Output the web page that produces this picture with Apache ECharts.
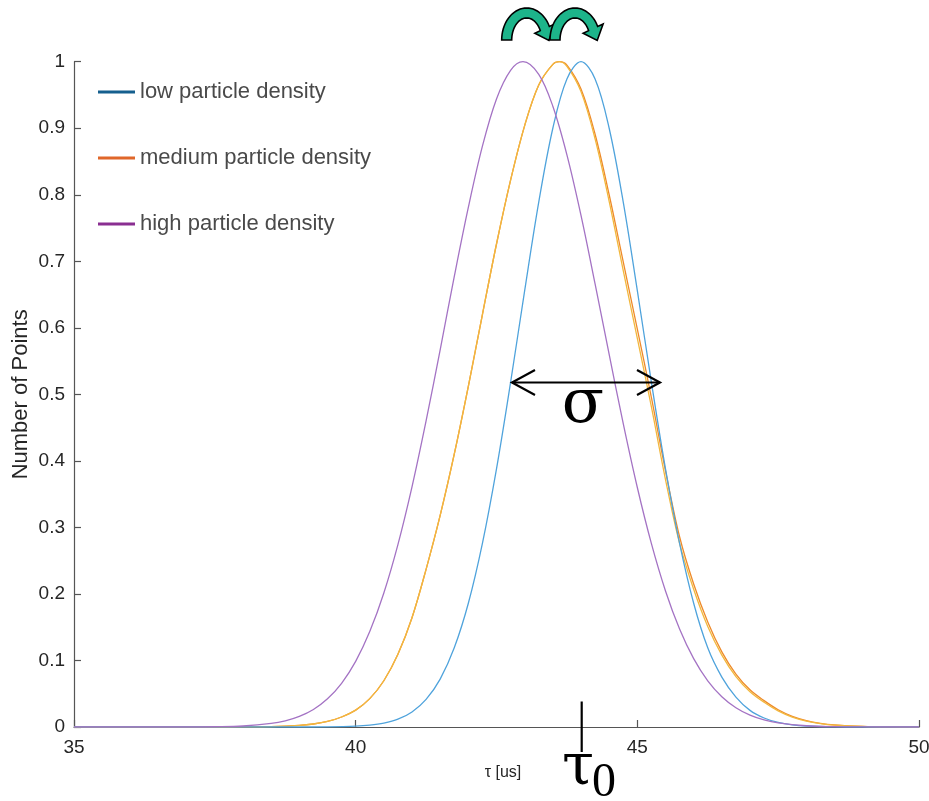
<!DOCTYPE html>
<html><head><meta charset="utf-8">
<script src="https://cdn.jsdelivr.net/npm/echarts@6/dist/echarts.min.js"></script>
<style>html,body{margin:0;padding:0;background:#fff}#c{width:929px;height:801px}</style>
</head><body><div id="c"></div>
<script>
// ---- data ----
const seriesNames = ['low particle density', 'medium particle density', 'high particle density'];
const xRange = [35, 50];
const xInterval = 5;
const yRange = [0, 1];
const yInterval = 0.1;

const lowDensity = [
  [35,0],[39,0],[39.5,0.0002],[40,0.0012],[40.25,0.0027],[40.5,0.0058],[40.75,0.0117],[41,0.0226],
  [41.25,0.0415],[41.5,0.072],[41.75,0.119],[42,0.186],[42.25,0.276],[42.5,0.388],[42.75,0.518],
  [43,0.656],[43.25,0.789],[43.5,0.900],[43.75,0.974],[44,1.0],[44.25,0.974],[44.5,0.900],[44.75,0.789],
  [45,0.656],[45.25,0.518],[45.5,0.388],[45.75,0.276],[46,0.186],[46.25,0.119],[46.5,0.075],[46.75,0.045],
  [47,0.025],[47.25,0.0135],[47.5,0.0068],[47.75,0.0032],[48,0.0015],[48.5,0.0003],[49,0],[50,0]
];
const mediumDensity = [
  [35,0],[37.5,0],[38,0.0001],[38.5,0.0006],[39,0.0024],[39.25,0.0045],[39.5,0.0083],[39.75,0.015],
  [40,0.0253],[40.25,0.0426],[40.5,0.0695],[40.75,0.1093],[41,0.1643],[41.25,0.237],[41.5,0.318],
  [41.75,0.410],[42,0.512],[42.25,0.620],[42.5,0.726],[42.75,0.822],[43,0.904],[43.25,0.965],[43.5,0.996],
  [43.62,1.0],[43.75,0.995],[44,0.959],[44.25,0.891],[44.5,0.800],[44.75,0.699],[45,0.598],[45.25,0.495],
  [45.5,0.385],[45.75,0.286],[46,0.215],[46.25,0.158],[46.5,0.113],[46.75,0.0796],[47,0.0559],[47.25,0.0396],
  [47.5,0.0259],[47.75,0.0161],[48,0.0097],[48.25,0.0056],[48.5,0.0032],[49,0.0009],[49.5,0.0002],[50,0]
];
const mediumDensityRepeat = [
  [35,0],[37.5,0],[38,0.0001],[38.5,0.0006],[39,0.0024],[39.25,0.0045],[39.5,0.0083],[39.75,0.015],
  [40,0.0253],[40.25,0.0426],[40.5,0.0695],[40.75,0.1093],[41,0.1643],[41.25,0.237],[41.5,0.318],
  [41.75,0.410],[42,0.512],[42.25,0.620],[42.5,0.726],[42.75,0.822],[43,0.904],[43.25,0.965],[43.5,0.996],
  [43.61,1.0],[43.75,0.993],[44,0.955],[44.25,0.884],[44.5,0.790],[44.75,0.686],[45,0.584],[45.25,0.481],
  [45.5,0.372],[45.75,0.276],[46,0.207],[46.25,0.151],[46.5,0.108],[46.75,0.0757],[47,0.0531],[47.25,0.0373],
  [47.5,0.0243],[47.75,0.0150],[48,0.0090],[48.25,0.0052],[48.5,0.0029],[49,0.0008],[49.5,0.0001],[50,0]
];
const highDensity = [
  [35,0],[37,0],[37.5,0.0004],[38,0.0015],[38.5,0.0053],[38.75,0.0093],[39,0.016],[39.25,0.0264],
  [39.5,0.0424],[39.75,0.0657],[40,0.0987],[40.25,0.1434],[40.5,0.2015],[40.75,0.2742],[41,0.361],
  [41.25,0.460],[41.5,0.567],[41.75,0.677],[42,0.781],[42.25,0.873],[42.5,0.944],[42.75,0.987],[42.97,1.0],
  [43.25,0.981],[43.5,0.933],[43.75,0.860],[44,0.769],[44.25,0.666],[44.5,0.560],[44.75,0.456],[45,0.360],
  [45.25,0.2756],[45.5,0.2045],[45.75,0.1472],[46,0.1027],[46.25,0.0694],[46.5,0.0455],[46.75,0.0289],
  [47,0.0178],[47.25,0.0106],[47.5,0.0062],[48,0.0019],[48.5,0.0005],[49,0.0001],[50,0]
];

// ---- styles ----
const curveColors = ['#4fa3dc', '#ee8a2a', '#a473c4'];
const repeatColor = '#f2b83e';
const legendColors = ['#155f8e', '#e0672a', '#8a2e91'];
const FONT = 'Liberation Sans';

function curvedArrow(cx, cy) {
  const rox = 25, roy = 32, rix = 15, riy = 22;
  const endDeg = 25, e = endDeg * Math.PI / 180;
  const pts = [];
  for (let a = 180; a >= endDeg; a -= 5) {
    const r = a * Math.PI / 180;
    pts.push([cx + rox * Math.cos(r), cy - roy * Math.sin(r)]);
  }
  const o = [cx + rox * Math.cos(e), cy - roy * Math.sin(e)];
  const i = [cx + rix * Math.cos(e), cy - riy * Math.sin(e)];
  const dx = o[0] - i[0], dy = o[1] - i[1];
  const mid = [(o[0] + i[0]) / 2, (o[1] + i[1]) / 2];
  let tx = Math.sin(e) * 20, ty = Math.cos(e) * 27;
  const tl = Math.hypot(tx, ty); tx /= tl; ty /= tl;
  pts.push([o[0] + dx * 0.6, o[1] + dy * 0.6]);
  pts.push([mid[0] + tx * 12.5, mid[1] + ty * 12.5]);
  pts.push([i[0] - dx * 0.6, i[1] - dy * 0.6]);
  for (let a = endDeg; a <= 180; a += 5) {
    const r = a * Math.PI / 180;
    pts.push([cx + rix * Math.cos(r), cy - riy * Math.sin(r)]);
  }
  return pts;
}

const chart = echarts.init(document.getElementById('c'), null, {renderer: 'canvas'});

function lineSeries(name, data, color, z) {
  return {
    name: name, type: 'line', data: data, smooth: 0.35, symbol: 'none', showSymbol: false,
    lineStyle: {color: color, width: 1.3}, itemStyle: {color: color}, z: z, animation: false
  };
}

const option = {
  backgroundColor: '#fff',
  animation: false,
  grid: {left: 74, right: 10, top: 61.7, bottom: 74, containLabel: false, outerBoundsMode: 'none'},
  legend: {
    orient: 'vertical', left: 93, top: 75, itemWidth: 37, itemHeight: 3, itemGap: 42, icon: 'rect',
    textStyle: {fontFamily: FONT, fontSize: 22, color: '#4a4a4a', lineHeight: 24},
    data: seriesNames.map((n, k) => ({name: n, icon: 'rect', itemStyle: {color: legendColors[k]}}))
  },
  xAxis: {
    type: 'value', min: xRange[0], max: xRange[1], interval: xInterval,
    axisLine: {show: true, lineStyle: {color: '#555', width: 1.2}},
    axisTick: {show: true, inside: true, length: 7, lineStyle: {color: '#555', width: 1.2}},
    axisLabel: {fontFamily: FONT, fontSize: 19, color: '#262626', margin: 11},
    splitLine: {show: false}
  },
  yAxis: {
    type: 'value', min: yRange[0], max: yRange[1], interval: yInterval,
    name: 'Number of Points', nameLocation: 'middle', nameGap: 42, nameRotate: 90, nameMoveOverlap: false,
    nameTextStyle: {fontFamily: FONT, fontSize: 22, color: '#262626'},
    axisLine: {show: true, lineStyle: {color: '#555', width: 1.2}},
    axisTick: {show: true, inside: true, length: 7, lineStyle: {color: '#555', width: 1.2}},
    axisLabel: {fontFamily: FONT, fontSize: 19, color: '#262626', margin: 9},
    splitLine: {show: false}
  },
  series: [
    lineSeries(seriesNames[0], lowDensity, curveColors[0], 3),
    lineSeries(seriesNames[1], mediumDensity, curveColors[1], 2),
    Object.assign(lineSeries('medium (repeat)', mediumDensityRepeat, repeatColor, 2.5), {legendHoverLink: false}),
    lineSeries(seriesNames[2], highDensity, curveColors[2], 4)
  ],
  graphic: [
    // x-axis label
    {type: 'text', x: 503, y: 773, z: 10, style: {text: 'τ [us]', fontFamily: FONT, fontSize: 16, fill: '#262626', align: 'center', verticalAlign: 'middle'}},
    // sigma double arrow
    {type: 'line', z: 10, shape: {x1: 512, y1: 382.5, x2: 660, y2: 382.5}, style: {stroke: '#000', lineWidth: 2.2}},
    {type: 'polyline', z: 10, shape: {points: [[535, 370], [512, 382.5], [535, 395]]}, style: {stroke: '#000', lineWidth: 2.2, fill: null}},
    {type: 'polyline', z: 10, shape: {points: [[637, 370], [660, 382.5], [637, 395]]}, style: {stroke: '#000', lineWidth: 2.2, fill: null}},
    {type: 'text', z: 10, x: 583, y: 375, style: {text: 'σ', fontFamily: 'DejaVu Serif', fontSize: 62, fill: '#000', align: 'center', verticalAlign: 'top'}},
    // tau_0 marker
    {type: 'line', z: 10, shape: {x1: 581.7, y1: 701.5, x2: 581.7, y2: 752}, style: {stroke: '#000', lineWidth: 2.2}},
    {type: 'text', z: 10, x: 562, y: 740, style: {text: 'τ', fontFamily: 'DejaVu Serif', fontSize: 58, fill: '#000', align: 'left', verticalAlign: 'top'}},
    {type: 'text', z: 10, x: 592, y: 759, style: {text: '0', fontFamily: 'Liberation Serif', fontSize: 48, fill: '#000', align: 'left', verticalAlign: 'top'}},
    // green curved arrows
    {type: 'polygon', z: 10, shape: {points: curvedArrow(526.7, 40)}, style: {fill: '#1db48a', stroke: '#000', lineWidth: 1.6}},
    {type: 'polygon', z: 11, shape: {points: curvedArrow(575, 40)}, style: {fill: '#1db48a', stroke: '#000', lineWidth: 1.6}}
  ]
};
chart.setOption(option);
</script>
</body></html>
